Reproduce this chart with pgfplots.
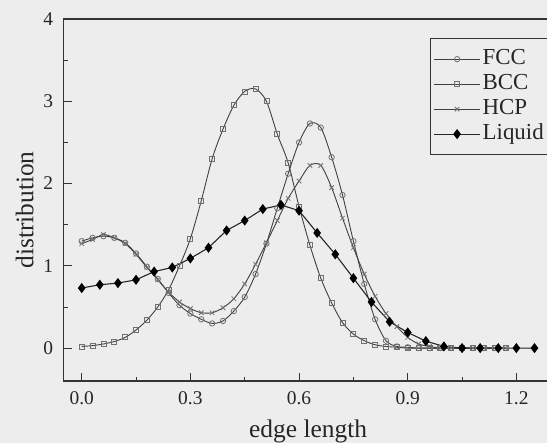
\documentclass[border=0pt]{standalone}
\usepackage{fontspec}
\setmainfont{Liberation Serif}
\usepackage{pgfplots}
\usepackage{pgfplotstable}
\pgfplotsset{compat=1.18}
\usetikzlibrary{backgrounds}
\definecolor{linegray}{HTML}{404040}
\definecolor{markgray}{HTML}{707070}
\definecolor{bggray}{HTML}{EDEDED}

\pgfplotstableread{
x y
0.00 1.30
0.03 1.34
0.06 1.36
0.09 1.34
0.12 1.28
0.15 1.15
0.18 0.99
0.21 0.84
0.24 0.67
0.27 0.52
0.30 0.42
0.33 0.35
0.36 0.30
0.39 0.33
0.42 0.45
0.45 0.62
0.48 0.90
0.51 1.27
0.54 1.70
0.57 2.12
0.60 2.50
0.63 2.73
0.66 2.68
0.69 2.32
0.72 1.86
0.75 1.30
0.78 0.78
0.81 0.35
0.84 0.09
0.87 0.02
0.90 0.01
0.93 0.00
0.96 0.00
0.99 0.00
1.02 0.00
1.05 0.00
1.08 0.00
1.11 0.00
1.14 0.00
1.17 0.00
}\fcc

\pgfplotstableread{
x y
0.00 0.02
0.03 0.03
0.06 0.05
0.09 0.08
0.12 0.13
0.15 0.22
0.18 0.34
0.21 0.50
0.24 0.71
0.27 1.00
0.30 1.33
0.33 1.79
0.36 2.30
0.39 2.66
0.42 2.95
0.45 3.12
0.48 3.15
0.51 3.00
0.54 2.60
0.57 2.25
0.60 1.72
0.63 1.25
0.66 0.85
0.69 0.55
0.72 0.31
0.75 0.17
0.78 0.09
0.81 0.04
0.84 0.02
0.87 0.01
0.90 0.00
0.93 0.00
0.96 0.00
0.99 0.00
1.02 0.00
1.05 0.00
1.08 0.00
1.11 0.00
1.14 0.00
1.17 0.00
}\bcc

\pgfplotstableread{
x y
0.00 1.27
0.03 1.32
0.06 1.38
0.09 1.34
0.12 1.27
0.15 1.14
0.18 0.98
0.21 0.83
0.24 0.68
0.27 0.56
0.30 0.48
0.33 0.43
0.36 0.43
0.39 0.49
0.42 0.60
0.45 0.78
0.48 1.02
0.51 1.28
0.54 1.55
0.57 1.82
0.60 2.03
0.63 2.22
0.66 2.22
0.69 1.95
0.72 1.58
0.75 1.22
0.78 0.90
0.81 0.63
0.84 0.42
0.87 0.26
0.90 0.13
0.93 0.05
0.96 0.02
0.99 0.00
1.02 0.00
1.05 0.00
1.08 0.00
1.11 0.00
1.14 0.00
1.17 0.00
}\hcp

\pgfplotstableread{
x y
0.00 0.73
0.05 0.77
0.10 0.79
0.15 0.83
0.20 0.93
0.25 0.98
0.30 1.09
0.35 1.22
0.40 1.43
0.45 1.55
0.50 1.69
0.55 1.74
0.60 1.67
0.65 1.40
0.70 1.14
0.75 0.85
0.80 0.56
0.85 0.32
0.90 0.19
0.95 0.085
1.00 0.02
1.05 0.00
1.10 0.00
1.15 0.00
1.20 0.00
1.25 0.00
}\liquid

\begin{document}
\begin{tikzpicture}
\begin{axis}[
  scale only axis,
  width=489bp, height=362bp,
  xmin=-0.05, xmax=1.30,
  ymin=-0.4, ymax=4,
  xtick={0,0.3,0.6,0.9,1.2},
  ytick={0,1,2,3,4},
  minor x tick num=1,
  minor y tick num=1,
  xtick pos=bottom, ytick pos=left,
  tick align=inside,
  major tick length=8bp, minor tick length=4.5bp,
  every tick/.style={black!80, line width=0.9pt},
  axis line style={black!80, line width=1.1pt},
  xticklabel style={/pgf/number format/.cd, fixed, fixed zerofill, precision=1},
  /pgf/number format/assume math mode=true,
  ticklabel style={font=\fontsize{19.5}{22}\selectfont, black!85},
  xticklabel shift=7bp,
  yticklabel shift=7bp,
  xlabel={edge length},
  ylabel={distribution},
  label style={font=\fontsize{25.5}{28}\selectfont, black!85},
  xlabel shift=8bp,
  ylabel shift=3bp,
  ylabel style={xshift=-10bp},
  legend style={at={(rel axis cs:0.7495,0.947)}, anchor=north west,
    draw=black!80, line width=0.9pt, fill=none,
    font=\fontsize{23}{25}\selectfont, text=black!85,
    inner xsep=3bp, inner ysep=8bp, row sep=0bp,
    nodes={text width=64bp, align=left, text height=16bp, text depth=5bp, inner ysep=2bp}},
  legend cell align=left,
  legend image code/.code={%
    \draw[mark repeat=2,mark phase=2,#1] plot coordinates {(0bp,0bp) (23bp,0bp) (46bp,0bp)};},
]
\addplot[color=linegray, line width=0.9pt, smooth, mark=o, mark size=2.7bp,
  mark options={draw=markgray, line width=0.8pt}] table[x=x,y=y] {\fcc};
\addlegendentry{FCC}
\addplot[color=linegray, line width=0.9pt, smooth, mark=square, mark size=2.5bp,
  mark options={draw=markgray, line width=0.8pt}] table[x=x,y=y] {\bcc};
\addlegendentry{BCC}
\addplot[color=linegray, line width=0.9pt, smooth, mark=x, mark size=3.2bp,
  mark options={draw=markgray, line width=0.8pt}] table[x=x,y=y] {\hcp};
\addlegendentry{HCP}
\addplot[color=black!85, line width=1.1pt, mark=diamond*, mark size=4.2bp,
  mark options={fill=black, draw=black}] table[x=x,y=y] {\liquid};
\addlegendentry{Liquid}
\end{axis}
\pgfresetboundingbox
\path[use as bounding box] ([xshift=-63.6bp,yshift=-62bp]current axis.south west) rectangle ++(547bp,443bp);
\begin{scope}[on background layer]
\fill[bggray] ([xshift=-63.6bp,yshift=-62bp]current axis.south west) rectangle ++(547bp,443bp);
\end{scope}
\end{tikzpicture}
\end{document}
